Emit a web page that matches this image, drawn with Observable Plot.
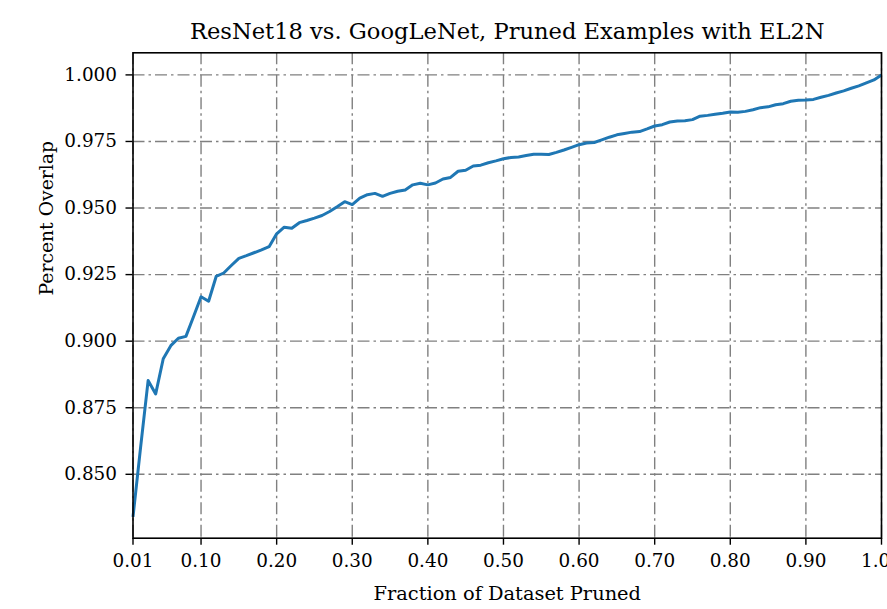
<!DOCTYPE html>
<html>
<head>
<meta charset="utf-8">
<script src="https://cdn.jsdelivr.net/npm/d3@7"></script>
<script src="https://cdn.jsdelivr.net/npm/@observablehq/plot@0.6"></script>
<style>
  html, body { margin: 0; padding: 0; background: #fff; }
  #chart svg { display: block; }
</style>
</head>
<body>
<div id="chart"></div>
<script>
const fractions = d3.range(1, 101).map(i => i / 100);
const overlap = [
  0.8340, 0.8600, 0.8852, 0.8802, 0.8934, 0.8983, 0.9011, 0.9018, 0.9092, 0.9167,
  0.9150, 0.9243, 0.9256, 0.9284, 0.9311, 0.9321, 0.9332, 0.9343, 0.9355, 0.9403,
  0.9428, 0.9424, 0.9445, 0.9453, 0.9462, 0.9472, 0.9487, 0.9505, 0.9524, 0.9513,
  0.9537, 0.9550, 0.9555, 0.9544, 0.9555, 0.9563, 0.9568, 0.9587, 0.9593, 0.9587,
  0.9594, 0.9609, 0.9615, 0.9638, 0.9642, 0.9658, 0.9661, 0.9670, 0.9677, 0.9685,
  0.9690, 0.9692, 0.9697, 0.9702, 0.9702, 0.9701, 0.9709, 0.9718, 0.9728, 0.9738,
  0.9744, 0.9746, 0.9756, 0.9766, 0.9775, 0.9780, 0.9785, 0.9787, 0.9797, 0.9808,
  0.9813, 0.9823, 0.9827, 0.9828, 0.9832, 0.9845, 0.9848, 0.9852, 0.9856, 0.9861,
  0.9860, 0.9863, 0.9869, 0.9877, 0.9880, 0.9888, 0.9892, 0.9901, 0.9905, 0.9906,
  0.9908, 0.9916, 0.9923, 0.9932, 0.9940, 0.9950, 0.9959, 0.9970, 0.9981, 1.0000
];
const xTicks = [0.01, 0.10, 0.20, 0.30, 0.40, 0.50, 0.60, 0.70, 0.80, 0.90, 1.00];
const yTicks = [0.850, 0.875, 0.900, 0.925, 0.950, 0.975, 1.000];
const titleText = "ResNet18 vs. GoogLeNet, Pruned Examples with EL2N";
const xLabel = "Fraction of Dataset Pruned";
const yLabel = "Percent Overlap";

const data = fractions.map((f, i) => ({f, v: overlap[i]}));

const grid = {stroke: "#808080", strokeOpacity: 1, strokeWidth: 1.4, strokeDasharray: "12,4,2.5,4"};

const chart = Plot.plot({
  width: 887,
  height: 609,
  marginLeft: 132.5,
  marginRight: 6,
  marginTop: 52.3,
  marginBottom: 71.3,
  style: {fontFamily: "'DejaVu Serif', serif", fontSize: "18.4px", color: "#000", background: "#fff", overflow: "visible"},
  x: {domain: [0.01, 1.0]},
  y: {domain: [0.8260, 1.0083]},
  marks: [
    Plot.gridX(xTicks, grid),
    Plot.gridY(yTicks, grid),
    Plot.line(data, {x: "f", y: "v", stroke: "#1f77b4", strokeWidth: 3, strokeLinejoin: "round", strokeLinecap: "butt"}),
    Plot.frame({stroke: "#000", strokeWidth: 1.6}),
    Plot.axisX(xTicks, {tickFormat: d3.format(".2f"), tickSize: 7, tickPadding: 9, strokeWidth: 1.4, label: null}),
    Plot.axisY(yTicks, {tickFormat: d3.format(".3f"), tickSize: 7, tickPadding: 9, strokeWidth: 1.4, label: null}),
    Plot.text([titleText], {frameAnchor: "top", lineAnchor: "bottom", dy: -13.5, fontSize: 22.6}),
    Plot.text([xLabel], {frameAnchor: "bottom", lineAnchor: "bottom", dy: 61.5, fontSize: 19.4}),
    Plot.text([yLabel], {frameAnchor: "left", rotate: -90, dx: -86, fontSize: 18.8})
  ]
});
document.getElementById("chart").appendChild(chart);
</script>
</body>
</html>
